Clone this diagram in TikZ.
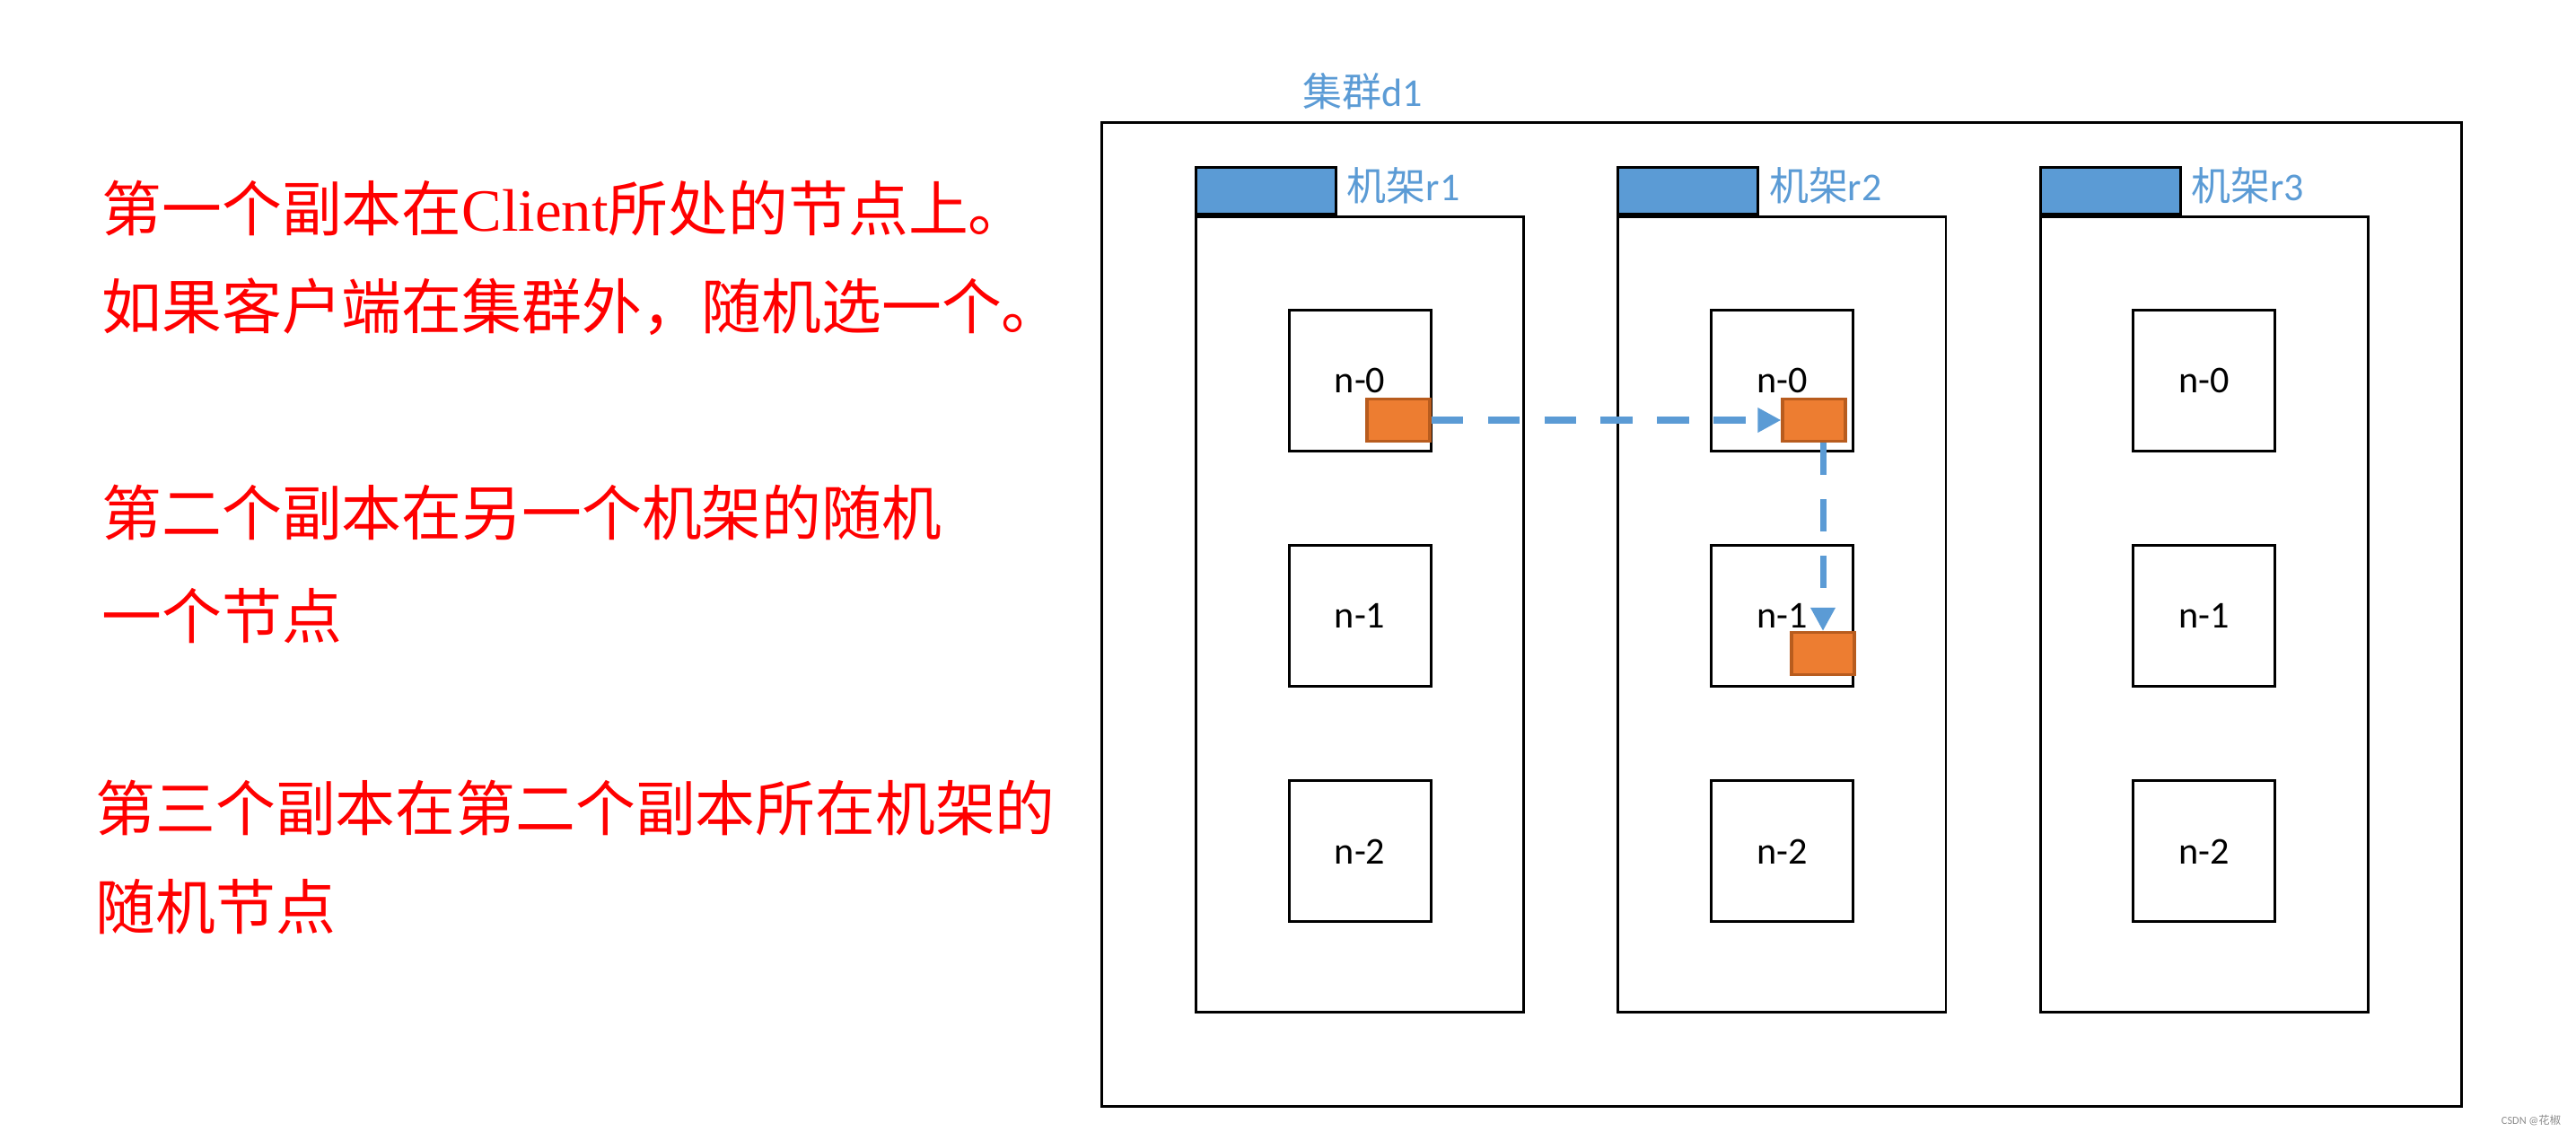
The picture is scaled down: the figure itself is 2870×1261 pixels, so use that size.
\documentclass[tikz,border=0pt]{standalone}
\usepackage{fontspec}
\setmainfont{Liberation Serif}
\setsansfont{Carlito}
\newfontfamily\cjk{Noto Sans CJK SC}
\usetikzlibrary{
  arrows.meta,
  positioning,  % Function "of" (e.g. [below=of x])
}
\definecolor{tabblue}{HTML}{5B9BD5}
\definecolor{blockorange}{HTML}{ED7D31}
\definecolor{blockedge}{HTML}{B85C1E}
\newcommand{\rackname}[1]{{\cjk 机架}r#1}
\def\mygap{1.02cm}
\tikzset{
  font=\sffamily,
  my box/.style={
    draw,
    line width=0.85pt,
    inner sep=0mm,
    rectangle
  },
  my rack/.style={
    my box,
    minimum width=3.65cm,
    minimum height=8.85cm,
    anchor=north west
  },
  my tab/.style={
    my box,
    fill=tabblue,
    minimum width=1.56cm,
    minimum height=0.52cm,
    anchor=south west
  },
  my datanode/.style={
    my box,
    minimum width=1.58cm,
    minimum height=1.57cm,
    font=\sffamily\fontsize{12}{14}\selectfont
  },
  my block/.style={
    draw=blockedge,
    fill=blockorange,
    line width=0.9pt,
    minimum width=0.70cm,
    minimum height=0.47cm,
    inner sep=0mm
  },
  blue label/.style={
    text=tabblue,
    inner sep=0mm,
    font=\sffamily\fontsize{12.5}{15}\selectfont
  },
  red note/.style={
    text=red,
    inner sep=0mm,
    anchor=west,
    font=\fontsize{19}{23}\selectfont\cjk
  },
  % Dashed blue line with a solid triangle head
  copy arrow/.style={
    draw=tabblue,
    line width=2pt,
    dash pattern=on 10.2pt off 7.7pt,
    -{Triangle[length=7.4pt,width=7.4pt]}
  }
}
\begin{document}
\begin{tikzpicture}[x=0.01cm,y=-0.01cm,node distance=\mygap]
\useasboundingbox (0,0) rectangle (2870,1261);
% placement rules
\node[red note] (note1) at (113,232)  {第一个副本在{\rmfamily Client}所处的节点上。};
\node[red note] (note2) at (113,342)  {如果客户端在集群外，随机选一个。};
\node[red note] (note3) at (113,571)  {第二个副本在另一个机架的随机};
\node[red note] (note4) at (113,686)  {一个节点};
\node[red note] (note5) at (106,900)  {第三个副本在第二个副本所在机架的};
\node[red note] (note6) at (106,1010) {随机节点};
% cluster
\node[my box,minimum width=15.14cm,minimum height=10.95cm,anchor=north west] (d1) at (1226,135) {};
\node[blue label] (d1 label) at (1518,102) {{\cjk 集群}d1};
% racks
\node[my rack] (r1) at (1331,240) {};
\node[my rack] (r2) [right=of r1] {};
\node[my rack] (r3) [right=of r2] {};
\node[my tab]  (t1) at (r1.north west) {};
\node[my tab]  (t2) at (r2.north west) {};
\node[my tab]  (t3) at (r3.north west) {};
\node[blue label,yshift=1.5pt] (t1 label) [right=0.1cm of t1] {\rackname1};
\node[blue label,yshift=1.5pt] (t2 label) [right=0.1cm of t2] {\rackname2};
\node[blue label,yshift=1.5pt] (t3 label) [right=0.1cm of t3] {\rackname3};
% data nodes
\node[my datanode] (r1n0) [below=1.04cm of r1.north] {n-0};
\node[my datanode] (r1n1) [below=of r1n0]            {n-1};
\node[my datanode] (r1n2) [below=of r1n1]            {n-2};
\node[my datanode] (r2n0) [below=1.04cm of r2.north] {n-0};
\node[my datanode] (r2n1) [below=of r2n0]            {n-1};
\node[my datanode] (r2n2) [below=of r2n1]            {n-2};
\node[my datanode] (r3n0) [below=1.04cm of r3.north] {n-0};
\node[my datanode] (r3n1) [below=of r3n0]            {n-1};
\node[my datanode] (r3n2) [below=of r3n1]            {n-2};
% replicas
\node[my block] (b1) at (1558,468) {};
\node[my block] (b2) at (2021,468) {};
\node[my block] (b3) at (2031,728) {};
\draw[copy arrow] (b1) -- (b2);
\draw[copy arrow] (b2.south -| b3.north) -- (b3.north);
% watermark
\node[text=black!45,inner sep=0mm,font=\sffamily\fontsize{3.5}{4}\selectfont] (mark) at (2820,1248) {CSDN @{\cjk 花椒}};
\end{tikzpicture}
\end{document}
